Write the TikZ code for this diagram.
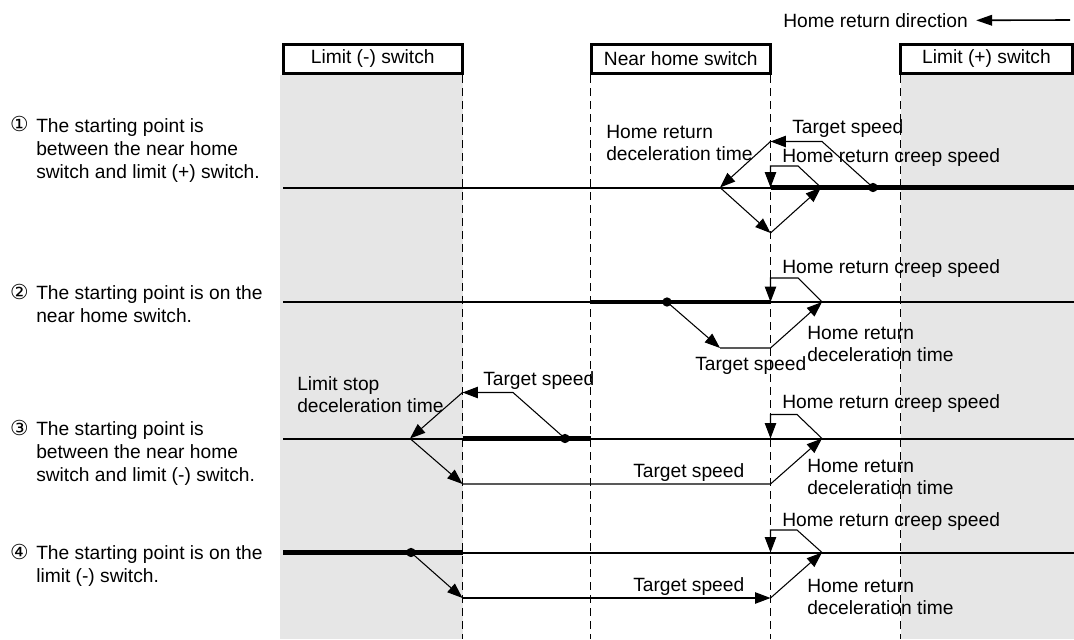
\documentclass[tikz,border=0pt]{standalone}
\usepackage{fontspec}
\setmainfont{Liberation Sans}
\newfontfamily\circfont{DejaVu Sans}
\usetikzlibrary{arrows.meta}
\definecolor{switchgrey}{HTML}{E6E6E6}
\tikzset{
  >={Triangle[length=11.5pt, width=8.5pt]},
  lbl/.style={inner sep=0pt, anchor=north west, align=left, font=\fontsize{14.4}{16.5}\selectfont},
  desc/.style={lbl, font=\fontsize{14.4}{17.25}\selectfont},
  num/.style={inner sep=0pt, anchor=base, font=\circfont\fontsize{15.5}{17}\selectfont},
  switch/.style={draw, line width=2.25pt, fill=white, inner sep=0pt, minimum height=21.75pt,
                 font=\fontsize{14.4}{16.5}\selectfont},
  guide/.style={line width=1pt, dash pattern=on 6pt off 3.75pt},
  axis/.style={line width=1.5pt},
  axisb/.style={line width=3.6pt},
  lead/.style={->, line width=0.8pt, line join=miter},
  dot/.style={circle, fill, inner sep=0pt, minimum size=7pt},
}

\begin{document}
\begin{tikzpicture}[x=0.75pt, y=-0.75pt]
  \useasboundingbox (0,0) rectangle (1074,639);
  % shaded limit switch areas and switch edges
  \fill[switchgrey] (280,75) rectangle (462.5,639);
  \fill[switchgrey] (900.5,75) rectangle (1074,639);
  \foreach \gx in {462.5,590.5,770.5,900.5}
    \draw[guide] (\gx,75) -- (\gx,639);

  % switches
  \node[switch, minimum width=134.6pt] (lminus) at (372.75,59) {Limit (-) switch};
  \node[switch, minimum width=134.6pt] (nearhome) at (680.75,59) {Near home switch};
  \node[switch, minimum width=129pt] (lplus) at (986.5,59) {Limit (+) switch};

  % direction
  \node[lbl] (hdir) at (783,13) {Home return direction};
  \coordinate (hdirtail) at (1070,20);
  \draw[->, line width=1.2pt, >={Triangle[length=12pt, width=8pt]}] (hdirtail) -- ([xshift=6pt]hdir.east);

  % case 1
  \draw[axis] (283,187.5) -- (1074,187.5);
  \draw[axisb] (770.5,187.5) -- (1074,187.5);
  \node[dot] (st1) at (873,187.5) {};
  \coordinate (t1a) at (822,141.5);
  \coordinate (t1b) at (770.5,141.5);
  \coordinate (d1a) at (720,187.5);
  \coordinate (d1b) at (770.5,233);
  \coordinate (d1c) at (821,187.5);
  \coordinate (c1a) at (798,166);
  \coordinate (c1b) at (770.5,166);
  \coordinate (c1c) at (770.5,187.5);
  \draw[lead] (st1.center) -- (t1a) -- (t1b);
  \draw[lead] (t1b) -- (d1a);
  \draw[lead] (d1a) -- (d1b);
  \draw[lead] (d1b) -- (d1c);
  \draw[lead] (d1c) -- (c1a) -- (c1b) -- (c1c);

  % case 2
  \draw[axis] (283,302) -- (1074,302);
  \draw[axisb] (590.5,302) -- (770.5,302);
  \node[dot] (st2) at (667,302) {};
  \coordinate (d2a) at (720,348);
  \coordinate (d2b) at (770.5,348);
  \coordinate (d2c) at (822,302);
  \coordinate (c2a) at (798,278);
  \coordinate (c2b) at (770.5,278);
  \coordinate (c2c) at (770.5,302);
  \draw[lead] (st2.center) -- (d2a);
  \draw[lead] (d2a) -- (d2b) -- (d2c);
  \draw[lead] (d2c) -- (c2a) -- (c2b) -- (c2c);

  % case 3
  \draw[axis] (283,438.5) -- (1074,438.5);
  \draw[axisb] (462.5,438.5) -- (590.5,438.5);
  \node[dot] (st3) at (565,438.5) {};
  \coordinate (t3a) at (513,392.5);
  \coordinate (t3b) at (462.5,392.5);
  \coordinate (d3a) at (410,438.5);
  \coordinate (d3b) at (462.5,484);
  \coordinate (d3c) at (770.5,484);
  \coordinate (d3d) at (822,438.5);
  \coordinate (c3a) at (797,414.5);
  \coordinate (c3b) at (770.5,414.5);
  \coordinate (c3c) at (770.5,438.5);
  \draw[lead] (st3.center) -- (t3a) -- (t3b);
  \draw[lead] (t3b) -- (d3a);
  \draw[lead] (d3a) -- (d3b);
  \draw[lead] (d3b) -- (d3c) -- (d3d);
  \draw[lead] (d3d) -- (c3a) -- (c3b) -- (c3c);

  % case 4
  \draw[axis] (283,552.5) -- (1074,552.5);
  \draw[axisb] (283,552.5) -- (462.5,552.5);
  \node[dot] (st4) at (411,552.5) {};
  \coordinate (d4a) at (462.5,598);
  \coordinate (d4b) at (770.5,598);
  \coordinate (d4c) at (822,552.5);
  \coordinate (c4a) at (797,530);
  \coordinate (c4b) at (770.5,530);
  \coordinate (c4c) at (770.5,552.5);
  \draw[lead] (st4.center) -- (d4a);
  \draw[lead] (d4a) -- (d4b);
  \draw[lead] (d4b) -- (d4c);
  \draw[lead] (d4c) -- (c4a) -- (c4b) -- (c4c);

  % labels
  \node[lbl] (l1dec) at (606,125.5) {Home return\\deceleration time};
  \node[lbl] (l1tgt) at (792,119.2) {Target speed};
  \node[lbl] (l1crp) at (782,148) {Home return creep speed};
  \node[lbl] (l2crp) at (782,259.2) {Home return creep speed};
  \node[lbl] (l2dec) at (807,326.2) {Home return\\deceleration time};
  \node[lbl] (l2tgt) at (695,356.7) {Target speed};
  \node[lbl] (l3lim) at (297,376.2) {Limit stop\\deceleration time};
  \node[lbl] (l3tgt) at (483,371.2) {Target speed};
  \node[lbl] (l3crp) at (782,394.5) {Home return creep speed};
  \node[lbl] (l3tgtb) at (633,463) {Target speed};
  \node[lbl] (l3dec) at (807,459.5) {Home return\\deceleration time};
  \node[lbl] (l4crp) at (782,512) {Home return creep speed};
  \node[lbl] (l4tgt) at (633,577) {Target speed};
  \node[lbl] (l4dec) at (807,579.5) {Home return\\deceleration time};

  % cases
  \node[num] (n1) at (19.5,131.7) {①};
  \node[desc] (case1) at (36,118) {The starting point is\\between the near home\\switch and limit (+) switch.};
  \node[num] (n2) at (19.5,299.3) {②};
  \node[desc] (case2) at (36,285.5) {The starting point is on the\\near home switch.};
  \node[num] (n3) at (19.5,435) {③};
  \node[desc] (case3) at (36,421) {The starting point is\\between the near home\\switch and limit (-) switch.};
  \node[num] (n4) at (19.5,559) {④};
  \node[desc] (case4) at (36,545) {The starting point is on the\\limit (-) switch.};
\end{tikzpicture}
\end{document}
